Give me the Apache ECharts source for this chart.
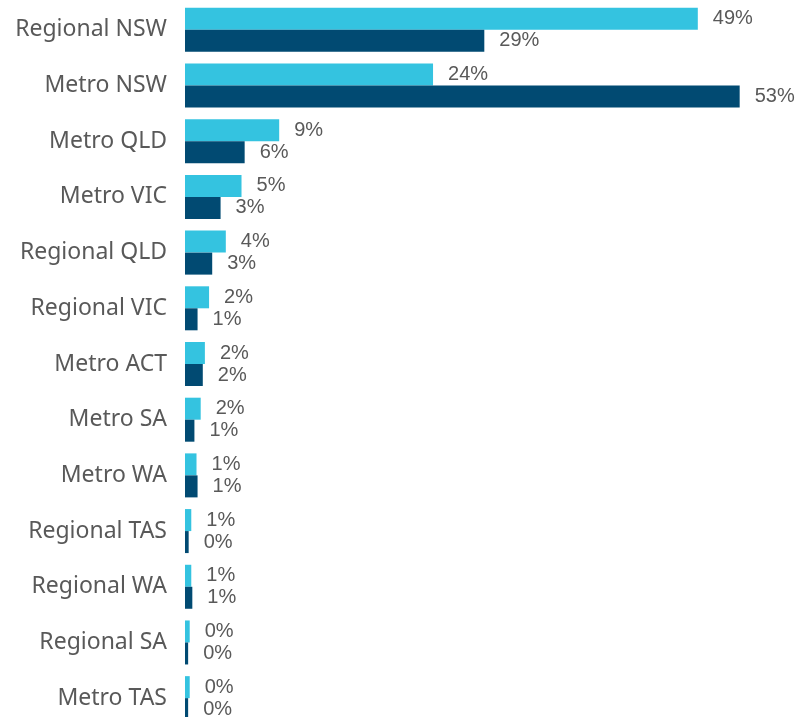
<!DOCTYPE html>
<html>
<head>
<meta charset="utf-8">
<style>
  html, body { margin: 0; padding: 0; background: #fff; }
  #chart { width: 798px; height: 717px; }
</style>
<script src="https://cdn.jsdelivr.net/npm/echarts@6/dist/echarts.min.js"></script>
</head>
<body>
<div id="chart"></div>
<script>
// Share of records by region (%), two periods
const regions = [
  'Regional NSW', 'Metro NSW', 'Metro QLD', 'Metro VIC', 'Regional QLD',
  'Regional VIC', 'Metro ACT', 'Metro SA', 'Metro WA', 'Regional TAS',
  'Regional WA', 'Regional SA', 'Metro TAS'
];
const seriesA = [49.0, 23.7, 9.0, 5.4, 3.9, 2.3, 1.9, 1.5, 1.1, 0.6, 0.6, 0.45, 0.45];
const seriesB = [28.6, 53.0, 5.7, 3.4, 2.6, 1.2, 1.7, 0.9, 1.2, 0.35, 0.7, 0.3, 0.3];

const labelStyle = {
  show: true,
  position: 'right',
  distance: 15,
  color: '#595959',
  fontFamily: '"Liberation Sans", Arial, sans-serif',
  fontSize: 20,
  formatter: p => Math.round(p.value) + '%'
};

const chart = echarts.init(document.getElementById('chart'), null, { renderer: 'canvas' });
chart.setOption({
  animation: false,
  backgroundColor: '#ffffff',
  grid: {
    left: 185, width: 607, top: 2, height: 724,
    containLabel: false, outerBoundsMode: 'none'
  },
  xAxis: {
    type: 'value', min: 0, max: 58, show: false,
    splitLine: { show: false }
  },
  yAxis: {
    type: 'category',
    data: regions,
    inverse: true,
    axisLine: { show: false },
    axisTick: { show: false },
    axisLabel: {
      color: '#595959',
      fontFamily: '"Noto Sans", sans-serif',
      fontSize: 23,
      margin: 18,
      padding: [3, 0, 0, 0]
    }
  },
  series: [
    {
      type: 'bar', data: seriesA, barWidth: 22, barGap: '0%',
      itemStyle: { color: '#34C3E0' }, label: labelStyle
    },
    {
      type: 'bar', data: seriesB, barWidth: 22, barGap: '0%',
      itemStyle: { color: '#014A72' }, label: labelStyle
    }
  ]
});
</script>
</body>
</html>
